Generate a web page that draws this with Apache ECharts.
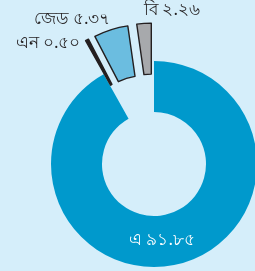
<!DOCTYPE html>
<html>
<head>
<meta charset="utf-8">
<script src="https://cdn.jsdelivr.net/npm/echarts@6/dist/echarts.min.js"></script>
<style>
  html, body { margin: 0; padding: 0; background: #d5eefa; }
  #chart { width: 255px; height: 271px; }
</style>
</head>
<body>
<div id="chart"></div>
<script>
// data, clockwise from 12 o'clock
const names = ['এ', 'এন', 'জেড', 'বি'];
const values = [91.85, 0.50, 5.37, 2.26];
const exploded = [false, true, true, true];

const colors = ['#0099cc', '#231f20', '#6bbde0', '#a7a9ac'];
// where each label sits (px, centre of text)
const labelPos = [[162, 240], [48, 43], [72, 19], [172, 10]];

const bnDigits = '০১২৩৪৫৬৭৮৯';
const toBn = s => s.replace(/[0-9]/g, d => bnDigits[+d]);

const chart = echarts.init(document.getElementById('chart'), null, { renderer: 'canvas' });

const CENTER = [154, 164];
const RADIUS = [52, 103];

// visible ring, small slices pulled out
const ringData = names.map((n, i) => {
  const style = {
    color: colors[i],
    borderColor: exploded[i] ? '#231f20' : 'transparent',
    borderWidth: exploded[i] ? 1.4 : 0
  };
  return {
    name: n,
    value: values[i],
    selected: exploded[i],
    itemStyle: style,
    select: { itemStyle: style }
  };
});

// same slices, invisible, only carrying the labels
const labelData = names.map((n, i) => ({
  name: n,
  value: values[i],
  label: { color: i === 0 ? '#ffffff' : '#231f20' }
}));

chart.setOption({
  backgroundColor: '#d5eefa',
  animation: false,
  series: [{
    type: 'pie',
    center: CENTER,
    radius: RADIUS,
    startAngle: 90,
    clockwise: true,
    selectedMode: 'multiple',
    selectedOffset: 38,
    silent: true,
    emphasis: { disabled: true },
    label: { show: false },
    labelLine: { show: false },
    data: ringData
  }, {
    type: 'pie',
    center: CENTER,
    radius: RADIUS,
    startAngle: 90,
    clockwise: true,
    silent: true,
    avoidLabelOverlap: false,
    emphasis: { disabled: true },
    itemStyle: { color: 'transparent', borderWidth: 0 },
    label: {
      show: true,
      position: 'inside',
      fontFamily: 'Noto Sans',
      fontSize: 17,
      formatter: p => p.name + ' ' + toBn(p.value.toFixed(2))
    },
    labelLine: { show: false },
    labelLayout: p => ({
      x: labelPos[p.dataIndex][0],
      y: labelPos[p.dataIndex][1],
      align: 'center',
      verticalAlign: 'middle'
    }),
    data: labelData
  }]
});
</script>
</body>
</html>
